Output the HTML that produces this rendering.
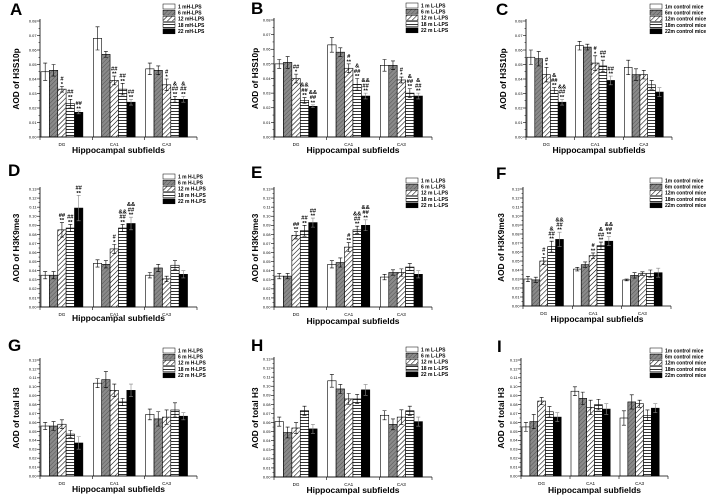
<!DOCTYPE html>
<html><head><meta charset="utf-8"><style>
html,body{margin:0;padding:0;background:#fff;}
svg{display:block;font-family:"Liberation Sans",Arial,sans-serif;}
</style></head><body>
<svg id="fig" width="708" height="503" viewBox="0 0 708 503" xmlns="http://www.w3.org/2000/svg">
<defs>
<pattern id="pGrey" patternUnits="userSpaceOnUse" width="3" height="3" patternTransform="rotate(45)"><rect width="3" height="3" fill="#8a8a8a"/><line x1="0" y1="0" x2="0" y2="3" stroke="#555" stroke-width="1"/></pattern>
<pattern id="pDiag" patternUnits="userSpaceOnUse" width="3.5" height="3.5" patternTransform="rotate(45)"><rect width="3.5" height="3.5" fill="#fff"/><line x1="0" y1="0" x2="0" y2="3.5" stroke="#000" stroke-width="1.1"/></pattern>
<pattern id="pHor" patternUnits="userSpaceOnUse" width="4" height="3"><rect width="4" height="3" fill="#fff"/><line x1="0" y1="0.5" x2="4" y2="0.5" stroke="#000" stroke-width="0.8"/></pattern>
</defs>
</svg>
<script>
const groups = ["DG","CA1","CA3"];
const fills = ["#fff","url(#pGrey)","url(#pDiag)","url(#pHor)","#000"];
const letters = ["A","B","C","D","E","F","G","H","I"];
const yTitles = ["AOD of H3S10p","AOD of H3S10p","AOD of H3S10p","AOD of H3K9me3","AOD of H3K9me3","AOD of H3K9me3","AOD of total H3","AOD of total H3","AOD of total H3"];
const legendA = ["1 mH-LPS","6 mH-LPS","12 mH-LPS","18 mH-LPS","22 mH-LPS"];
const legendL = ["1 m L-LPS","6 m L-LPS","12 m L-LPS","18 m L-LPS","22 m L-LPS"];
const legendC = ["1m control mice","6m control mice","12m control mice","18m control mice","22m control mice"];
const legendH = ["1 m H-LPS","6 m H-LPS","12 m H-LPS","18 m H-LPS","22 m H-LPS"];
const ticks08 = ["0.00","0.01","0.02","0.03","0.04","0.05","0.06","0.07","0.08"];
const ticks13 = ["0.00","0.01","0.02","0.03","0.04","0.05","0.06","0.07","0.08","0.09","0.10","0.11","0.12","0.13"];

const valsA = [[0.045,0.046,0.033,0.023,0.017],[0.068,0.057,0.039,0.033,0.024],[0.047,0.046,0.036,0.026,0.026]];
const errA  = [[0.006,0.004,0.002,0.003,0.001],[0.008,0.002,0.003,0.004,0.002],[0.004,0.003,0.004,0.002,0.002]];
const valsB = [[0.050,0.051,0.040,0.025,0.021],[0.063,0.058,0.047,0.036,0.028],[0.049,0.049,0.039,0.030,0.028]];
const errB  = [[0.003,0.004,0.003,0.002,0.001],[0.005,0.003,0.003,0.004,0.002],[0.004,0.003,0.002,0.003,0.002]];
const valsC = [[0.055,0.054,0.043,0.032,0.024],[0.063,0.062,0.051,0.049,0.039],[0.048,0.043,0.043,0.036,0.031]];
const errC  = [[0.005,0.005,0.005,0.002,0.002],[0.003,0.002,0.005,0.004,0.003],[0.005,0.004,0.003,0.003,0.003]];
const valsD = [[0.035,0.035,0.085,0.087,0.109],[0.048,0.047,0.064,0.087,0.092],[0.035,0.043,0.031,0.046,0.036]];
const errD  = [[0.004,0.004,0.008,0.004,0.014],[0.004,0.004,0.005,0.004,0.007],[0.003,0.004,0.003,0.005,0.004]];
const valsE = [[0.034,0.034,0.079,0.084,0.093],[0.047,0.049,0.066,0.085,0.090],[0.033,0.038,0.038,0.044,0.036]];
const errE  = [[0.003,0.003,0.004,0.006,0.005],[0.004,0.005,0.005,0.004,0.006],[0.003,0.003,0.004,0.004,0.004]];
const valsF = [[0.030,0.029,0.050,0.066,0.074],[0.041,0.046,0.056,0.067,0.072],[0.029,0.034,0.036,0.036,0.037]];
const errF  = [[0.003,0.003,0.004,0.006,0.008],[0.002,0.003,0.003,0.004,0.005],[0.001,0.003,0.002,0.004,0.005]];
const valsG = [[0.056,0.056,0.058,0.047,0.037],[0.104,0.108,0.096,0.083,0.096],[0.069,0.064,0.066,0.074,0.067]];
const errG  = [[0.004,0.005,0.005,0.004,0.007],[0.005,0.009,0.007,0.004,0.007],[0.006,0.008,0.008,0.008,0.004]];
const valsH = [[0.061,0.049,0.054,0.073,0.053],[0.106,0.097,0.086,0.086,0.096],[0.068,0.058,0.066,0.073,0.061]];
const errH  = [[0.005,0.006,0.006,0.005,0.005],[0.007,0.005,0.006,0.005,0.006],[0.005,0.006,0.008,0.005,0.005]];
const valsI = [[0.055,0.061,0.084,0.072,0.066],[0.095,0.087,0.077,0.080,0.075],[0.065,0.083,0.081,0.068,0.076]];
const errI  = [[0.005,0.008,0.004,0.006,0.005],[0.005,0.007,0.008,0.006,0.006],[0.008,0.008,0.004,0.006,0.005]];

const sigA = [["","","#|*","##|**","##|**"],["","","##|**","##|**","##|**"],["","","#|*","&|##|**","&|##|**"]];
const sigB = [["","","##|*","&&|##|**","&&|##|**"],["","","#|**","&|##|**","&&|##|**"],["","","#|*","&|##|**","&|##|**"]];
const sigC = [["","","#|*","&|##|**","&&|##|**"],["","","#|*","##|**","##|**"],["","","","",""]];
const sigD = [["","","##|**","##|**","##|**"],["","","#|*","&&|##|**","&&|##|**"],["","","","",""]];
const sigE = [["","","##|**","##|**","##|**"],["","","#|**","&&|##|**","&&|##|**"],["","","","",""]];
const sigF = [["","","#|*","&|##|**","&&|##|**"],["","","#|**","&|##|**","&&|##|**"],["","","","",""]];
const sigNone = [["","","","",""],["","","","",""],["","","","",""]];

const panels = [
 {ox:0,oy:0,x0:40,x1:197,yb:137,yt:21,max:0.08,ticks:ticks08,vals:valsA,err:errA,sig:sigA,leg:legendA,lx:163,ly:4,ylx:16,xly:153,ll:[10,15]},
 {ox:234,oy:0,x0:40,x1:198,yb:137,yt:20,max:0.08,ticks:ticks08,vals:valsB,err:errB,sig:sigB,leg:legendL,lx:172,ly:3,ylx:21,xly:153,ll:[17,14]},
 {ox:468,oy:0,x0:58,x1:204,yb:137,yt:21,max:0.08,ticks:ticks08,vals:valsC,err:errC,sig:sigC,leg:legendC,lx:182,ly:4,ylx:35,xly:153,ll:[28,15]},
 {ox:0,oy:165,x0:40,x1:197,yb:142,yt:24,max:0.13,ticks:ticks13,vals:valsD,err:errD,sig:sigD,leg:legendH,lx:163,ly:9,ylx:16,xly:156,ll:[8,11]},
 {ox:234,oy:165,x0:40,x1:198,yb:142,yt:24,max:0.13,ticks:ticks13,vals:valsE,err:errE,sig:sigE,leg:legendL,lx:172,ly:13,ylx:21,xly:159,ll:[17,13]},
 {ox:468,oy:165,x0:55,x1:203,yb:141,yt:24,max:0.13,ticks:ticks13,vals:valsF,err:errF,sig:sigF,leg:legendC,lx:182,ly:13,ylx:33,xly:157,ll:[28,14]},
 {ox:0,oy:333,x0:40,x1:197,yb:143,yt:27,max:0.13,ticks:ticks13,vals:valsG,err:errG,sig:sigNone,leg:legendH,lx:163,ly:15,ylx:16,xly:159,ll:[8,18]},
 {ox:234,oy:333,x0:40,x1:198,yb:144,yt:26,max:0.13,ticks:ticks13,vals:valsH,err:errH,sig:sigNone,leg:legendL,lx:172,ly:14,ylx:21,xly:160,ll:[17,18]},
 {ox:468,oy:333,x0:53,x1:200,yb:143,yt:27,max:0.13,ticks:ticks13,vals:valsI,err:errI,sig:sigNone,leg:legendC,lx:182,ly:15,ylx:33,xly:160,ll:[29,19]}
];
const NS = "http://www.w3.org/2000/svg";
const svg = document.getElementById('fig');
function mk(tag, attrs, parent){const e=document.createElementNS(NS,tag);for(const k in attrs)e.setAttribute(k,attrs[k]);parent.appendChild(e);return e;}

panels.forEach((p,pi)=>{
  const g = mk('g',{transform:`translate(${p.ox},${p.oy})`},svg);
  
  
  const yS = v => p.yb - v/p.max*(p.yb-p.yt);
  const gw = (p.x1-p.x0)/3;
  const bw = gw*0.16;
  const xS = (gi,si) => p.x0 + 1 + gi*gw + si*bw;
  const L = mk('text',{x:p.ll[0],y:p.ll[1],'font-size':17,'font-weight':'bold'},g);
  L.textContent = letters[pi];
  
  
  p.vals.forEach((row,gi)=>{
    row.forEach((v,si)=>{
      const x = xS(gi,si), y = yS(v);
      const r = mk('rect',{x:x,y:y,width:bw,height:p.yb-y,fill:fills[si],stroke:'#000','stroke-width':0.6},g);
      
      
      const e = p.err[gi][si];
      const cx = x+bw/2, ty=yS(v+e), by=yS(v-e);
      const eb = mk('path',{d:`M${cx},${ty}V${by}M${cx-2},${ty}H${cx+2}M${cx-2},${by}H${cx+2}`,stroke:si===4?'#888':'#000','stroke-width':0.6,fill:'none'},g);
      
      
      const s = p.sig[gi][si];
      if(s){
        const lines = s.split('|');
        lines.forEach((t,li)=>{
          const tt = mk('text',{x:cx,y:ty-0.5-(lines.length-1-li)*5.2,'font-size':5.8,'font-weight':'bold','text-anchor':'middle'},g);
          tt.textContent = t;
          
          
        });
      }
    });
    const gl = mk('text',{x:p.x0+1+gi*gw+bw*2.5,y:p.yb+9,'font-size':4.6,'text-anchor':'middle'},g);
    gl.textContent = groups[gi];
    
    
  });
  const ax = mk('path',{d:`M${p.x0},${p.yt-2}V${p.yb}H${p.x1}`,stroke:'#000','stroke-width':0.8,fill:'none'},g);
  
  
  for(let gi=0;gi<=3;gi++){
    const xt=p.x0+gi*gw;
    mk('line',{x1:xt,y1:p.yb,x2:xt,y2:p.yb+3,stroke:'#000','stroke-width':0.6},g);
  }
  p.ticks.forEach((t,ti)=>{
    const v=parseFloat(t), y=yS(v);
    mk('line',{x1:p.x0-3,y1:y,x2:p.x0,y2:y,stroke:'#000','stroke-width':0.6},g);
    if(ti<p.ticks.length-1){const ym=yS(v+0.005);mk('line',{x1:p.x0-1.5,y1:ym,x2:p.x0,y2:ym,stroke:'#000','stroke-width':0.5},g);}
    const tl = mk('text',{x:p.x0-3.5,y:y+1.4,'font-size':3.9,'text-anchor':'end'},g);
    tl.textContent = t;
    
    
  });
  const yc=(p.yb+p.yt)/2;
  const yl = mk('text',{x:p.ylx,y:yc,'font-size':8.3,'font-weight':'bold','text-anchor':'middle',transform:`rotate(-90 ${p.ylx} ${yc})`,dy:'3'},g);
  yl.textContent = yTitles[pi];
  
  
  const xl = mk('text',{x:(p.x0+p.x1)/2,y:p.xly,'font-size':8.5,'font-weight':'bold','text-anchor':'middle'},g);
  xl.textContent = 'Hippocampal subfields';
  
  
  p.leg.forEach((t,li)=>{
    const y=p.ly+li*6.2;
    const lb = mk('rect',{x:p.lx,y:y,width:12,height:5,fill:fills[li],stroke:'#000','stroke-width':0.5},g);
    
    
    const lt = mk('text',{x:p.lx+15,y:y+4.3,'font-size':5,'font-weight':'bold'},g);
    lt.textContent=t;
    
    
  });
});
</script>
</body></html>
